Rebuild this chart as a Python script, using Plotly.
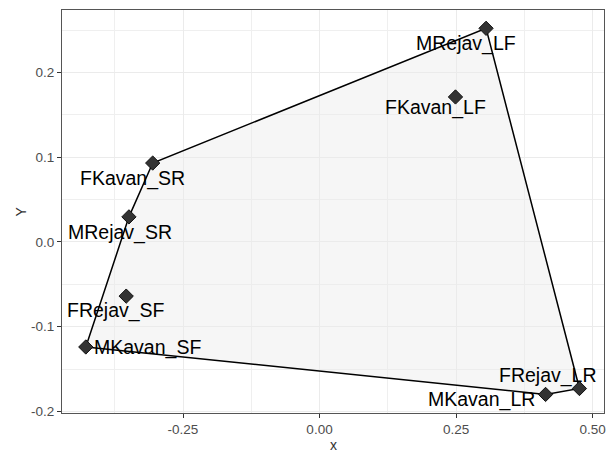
import plotly.graph_objects as go

# ---- data ----
names = ["MRejav_LF", "FKavan_LF", "FKavan_SR", "MRejav_SR",
         "FRejav_SF", "MKavan_SF", "MKavan_LR", "FRejav_LR"]
xs = [0.305, 0.249, -0.3055, -0.349, -0.354, -0.428, 0.414, 0.476]
ys = [0.252, 0.171, 0.093, 0.0295, -0.064, -0.124, -0.180, -0.173]

x_ticks = [-0.25, 0.0, 0.25, 0.5]
x_ticklabels = ["-0.25", "0.00", "0.25", "0.50"]
y_ticks = [-0.2, -0.1, 0.0, 0.1, 0.2]
y_ticklabels = ["-0.2", "-0.1", "0.0", "0.1", "0.2"]
x_title = "x"
y_title = "Y"

# label pixel offsets (style only)
label_shift = {
    "MRejav_LF": (-20, -15),
    "FKavan_LF": (-20, -11),
    "FKavan_SR": (-20, -15),
    "MRejav_SR": (-9, -16),
    "FRejav_SF": (-10, -14),
    "MKavan_SF": (62, -1),
    "MKavan_LR": (-64, -5),
    "FRejav_LR": (-31, 13),
}

# ---- convex hull (monotone chain) ----
pts = sorted(zip(xs, ys))
def cross(o, a, b):
    return (a[0]-o[0])*(b[1]-o[1]) - (a[1]-o[1])*(b[0]-o[0])
lower, upper = [], []
for p in pts:
    while len(lower) >= 2 and cross(lower[-2], lower[-1], p) <= 0:
        lower.pop()
    lower.append(p)
for p in reversed(pts):
    while len(upper) >= 2 and cross(upper[-2], upper[-1], p) <= 0:
        upper.pop()
    upper.append(p)
hull = lower[:-1] + upper[:-1]
hull.append(hull[0])
hx = [p[0] for p in hull]
hy = [p[1] for p in hull]

FONT = "Liberation Sans, Arial, Helvetica"

fig = go.Figure()
fig.add_trace(go.Scatter(x=hx, y=hy, mode="lines", fill="toself",
                         fillcolor="rgba(235,235,235,0.45)",
                         line=dict(color="black", width=1.5),
                         hoverinfo="skip", showlegend=False))
fig.add_trace(go.Scatter(x=xs, y=ys, mode="markers", text=names,
                         marker=dict(symbol="diamond", size=11, color="#333333",
                                     line=dict(color="#111111", width=1)),
                         showlegend=False))

for n, x, y in zip(names, xs, ys):
    dx, dy = label_shift[n]
    fig.add_annotation(x=x, y=y, text=n, showarrow=False,
                       xshift=dx, yshift=dy,
                       font=dict(family=FONT, size=19.5, color="black"))

# axis titles
fig.add_annotation(xref="paper", yref="paper", x=0.5, y=0, text=x_title,
                   showarrow=False, yanchor="middle", yshift=-32,
                   font=dict(family=FONT, size=14, color="#333333"))
fig.add_annotation(xref="paper", yref="paper", x=0, y=0.5, text=y_title,
                   showarrow=False, xanchor="center", xshift=-42, textangle=-90,
                   font=dict(family=FONT, size=14, color="#333333"))

axis_common = dict(
    showgrid=True, gridcolor="#ebebeb", gridwidth=1,
    zeroline=False, showline=True, linecolor="#555555", linewidth=1, mirror=True,
    ticks="outside", ticklen=4, tickcolor="#333333", tickwidth=1,
    tickfont=dict(family=FONT, size=13.5, color="#4d4d4d"),
    minor=dict(showgrid=True, gridcolor="#efefef", gridwidth=0.7, ticks=""),
    automargin=False,
)

fig.update_xaxes(range=[-0.4716, 0.521], tickvals=x_ticks, ticktext=x_ticklabels,
                 minor_tickvals=[-0.375, -0.125, 0.125, 0.375],
                 **axis_common)
fig.update_yaxes(range=[-0.2019, 0.2736], tickvals=y_ticks, ticktext=y_ticklabels,
                 minor_tickvals=[-0.15, -0.05, 0.05, 0.15, 0.25],
                 **axis_common)

fig.update_layout(width=616, height=450, plot_bgcolor="white", paper_bgcolor="white",
                  margin=dict(l=54, r=20, t=2, b=45), showlegend=False)

fig.write_html("out.html")
